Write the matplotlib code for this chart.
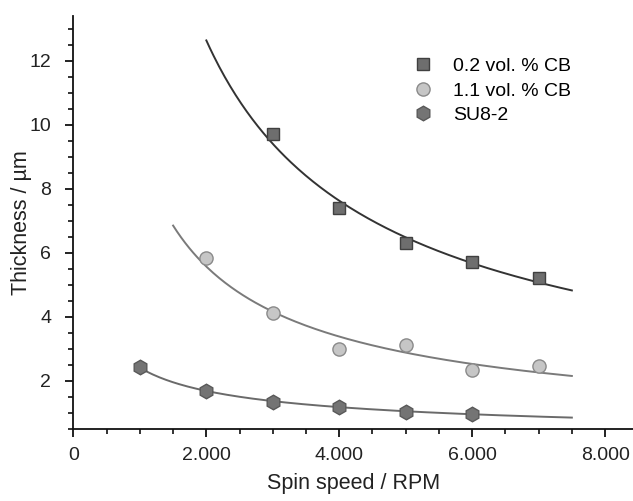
import numpy as np
import matplotlib
matplotlib.use("Agg")
import matplotlib.pyplot as plt
from matplotlib.ticker import MultipleLocator, FuncFormatter

plt.rcParams['font.family'] = ['Liberation Sans', 'DejaVu Sans']

# Data
rpm_cb02 = [3000, 4000, 5000, 6000, 7000]
thk_cb02 = [9.7, 7.4, 6.3, 5.7, 5.2]

rpm_cb11 = [2000, 3000, 4000, 5000, 6000, 7000]
thk_cb11 = [5.85, 4.12, 3.0, 3.12, 2.34, 2.45]

rpm_su8 = [1000, 2000, 3000, 4000, 5000, 6000]
thk_su8 = [2.42, 1.69, 1.35, 1.18, 1.04, 0.97]

# x range of each fitted curve
fit_range_cb02 = (2000, 7500)
fit_range_cb11 = (1500, 7500)
fit_range_su8 = (1000, 7500)


def fit_power(x, y):
    # allometric fit y = a * x^b (linear in log-log)
    b, ln_a = np.polyfit(np.log(x), np.log(y), 1)
    return lambda xx: np.exp(ln_a) * xx ** b


fig = plt.figure(figsize=(6.33, 5.01), dpi=100)
ax = fig.add_axes([0.116, 0.144, 0.884, 0.824])

series = [
    (rpm_cb02, thk_cb02, fit_range_cb02, "0.2 vol. % CB", "s", "#6e6e6e", "#404040", "#333333", 8.5),
    (rpm_cb11, thk_cb11, fit_range_cb11, "1.1 vol. % CB", "o", "#c6c6c6", "#8a8a8a", "#7a7a7a", 9.5),
    (rpm_su8, thk_su8, fit_range_su8, "SU8-2", "h", "#747474", "#595959", "#6a6a6a", 10.5),
]

for x, y, (x0, x1), label, mk, face, edge, lc, ms in series:
    f = fit_power(x, y)
    xx = np.linspace(x0, x1, 200)
    ax.plot(xx, f(xx), color=lc, lw=1.4, zorder=2)
    ax.plot(x, y, linestyle="none", marker=mk, ms=ms, mfc=face, mec=edge,
            mew=1.0, label=label, zorder=3)

ax.set_xlim(0, 8420)
ax.set_ylim(0.5, 13.4)

ax.xaxis.set_major_locator(MultipleLocator(2000))
ax.xaxis.set_minor_locator(MultipleLocator(500))
ax.yaxis.set_major_locator(MultipleLocator(2))
ax.yaxis.set_minor_locator(MultipleLocator(0.5))
ax.xaxis.set_major_formatter(FuncFormatter(lambda v, p: f"{int(round(v)):,}".replace(",", ".")))

for side in ("top", "right"):
    ax.spines[side].set_visible(False)
for side in ("left", "bottom"):
    ax.spines[side].set_linewidth(1.3)
    ax.spines[side].set_color("#111111")

ax.tick_params(which="major", direction="out", length=6, width=1.3,
               labelsize=14, colors="#111111", labelcolor="#222222")
ax.tick_params(axis="y", which="major", pad=10)
ax.tick_params(axis="x", which="major", pad=7)
ax.tick_params(which="minor", direction="out", length=3.5, width=1.2, colors="#111111")

ax.set_xlabel("Spin speed / RPM", fontsize=15.5, color="#222222")
ax.set_ylabel("Thickness / \u00b5m", fontsize=15.5, color="#222222")
ax.xaxis.set_label_coords(0.5, -0.106)
ax.yaxis.set_label_coords(-0.074, 0.5)

ax.legend(loc="upper left", bbox_to_anchor=(0.59, 0.918), frameon=False,
          fontsize=14, labelspacing=0.35, handletextpad=0.95, handlelength=1.2,
          borderaxespad=0)

fig.savefig("out.png", dpi=100)
